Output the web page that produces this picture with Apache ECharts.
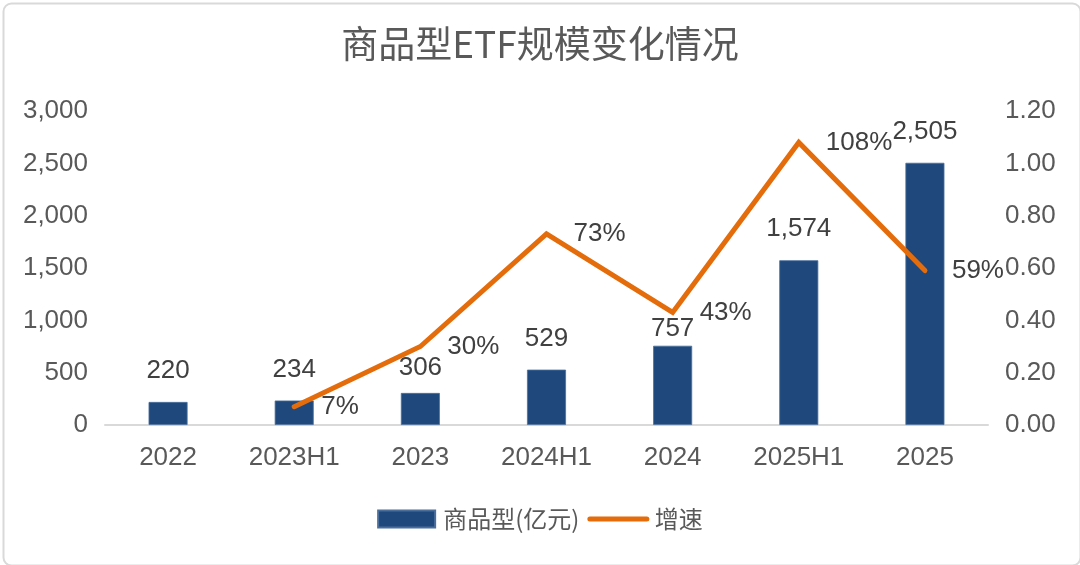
<!DOCTYPE html>
<html>
<head>
<meta charset="utf-8">
<script src="https://cdn.jsdelivr.net/npm/echarts@6/dist/echarts.min.js"></script>
<style>
html,body{margin:0;padding:0;background:#fff;}
#c{width:1080px;height:565px;}
</style>
</head>
<body>
<div id="c"></div>
<script>
const categories = ['2022','2023H1','2023','2024H1','2024','2025H1','2025'];
const scaleValues = [220, 234, 306, 529, 757, 1574, 2505];
const growthValues = [null, 0.07, 0.30, 0.73, 0.43, 1.08, 0.59];
const titleText = '商品型ETF规模变化情况';
const barName = '商品型(亿元)';
const lineName = '增速';

const numFont = "'Liberation Sans', 'Noto Sans CJK SC', sans-serif";
const cjkFont = "'Noto Sans CJK SC', sans-serif";
const axisColor = '#595959';
const labelColor = '#404040';

// label placement tweaks (style only), keyed by category
const barLabelNudge = {'2023': 6, '2024': 14};

const barData = scaleValues.map((v, i) => {
  const dy = barLabelNudge[categories[i]];
  return dy ? {value: v, label: {offset: [0, dy]}} : v;
});

const chart = echarts.init(document.getElementById('c'), null, {renderer: 'canvas'});
chart.setOption({
  animation: false,
  backgroundColor: '#ffffff',
  graphic: [{
    type: 'rect', left: 1, top: 1,
    shape: {width: 1077, height: 562, r: 8},
    style: {fill: 'none', stroke: '#d9d9d9', lineWidth: 2},
    z: -1
  }],
  title: {
    text: titleText,
    left: 'center', top: 20,
    textStyle: {fontFamily: cjkFont, fontSize: 37, fontWeight: 'normal', color: axisColor}
  },
  legend: {
    bottom: 29, left: 'center',
    itemWidth: 57, itemHeight: 17, itemGap: 8,
    textStyle: {fontFamily: cjkFont, fontSize: 24, color: axisColor, padding: [0, 0, 0, 3]},
    data: [
      {name: barName, icon: 'rect'},
      {name: lineName, itemStyle: {opacity: 0}, lineStyle: {width: 5, cap: 'round'}}
    ]
  },
  grid: {left: 105, right: 92, top: 111, bottom: 140},
  xAxis: {
    type: 'category', data: categories,
    axisLine: {lineStyle: {color: '#d9d9d9', width: 2}},
    axisTick: {show: false},
    axisLabel: {fontFamily: numFont, fontSize: 26, color: axisColor, margin: 20}
  },
  yAxis: [{
    type: 'value', min: 0, max: 3000, interval: 500,
    splitLine: {show: false}, axisLine: {show: false}, axisTick: {show: false},
    axisLabel: {fontFamily: numFont, fontSize: 26, color: axisColor, margin: 17,
      formatter: v => v.toLocaleString('en-US')}
  }, {
    type: 'value', min: 0, max: 1.2, interval: 0.2,
    splitLine: {show: false}, axisLine: {show: false}, axisTick: {show: false},
    axisLabel: {fontFamily: numFont, fontSize: 26, color: axisColor, margin: 17,
      formatter: v => v.toFixed(2)}
  }],
  series: [{
    name: barName, type: 'bar', data: barData, barWidth: 39,
    itemStyle: {color: '#1f497d', borderColor: '#4a6f9c', borderWidth: 0.8},
    label: {show: true, position: 'top', distance: 18, fontFamily: numFont, fontSize: 26, color: labelColor,
      formatter: p => Number(p.value).toLocaleString('en-US')}
  }, {
    name: lineName, type: 'line', yAxisIndex: 1, data: growthValues,
    symbol: 'circle', symbolSize: 0.01, showSymbol: true,
    lineStyle: {color: '#e46c0a', width: 5, cap: 'round', join: 'miter'},
    itemStyle: {color: '#e46c0a'},
    label: {show: true, position: 'right', distance: 27, fontFamily: numFont, fontSize: 26, color: labelColor,
      formatter: p => Math.round(p.value * 100) + '%'}
  }]
});
</script>
</body>
</html>
